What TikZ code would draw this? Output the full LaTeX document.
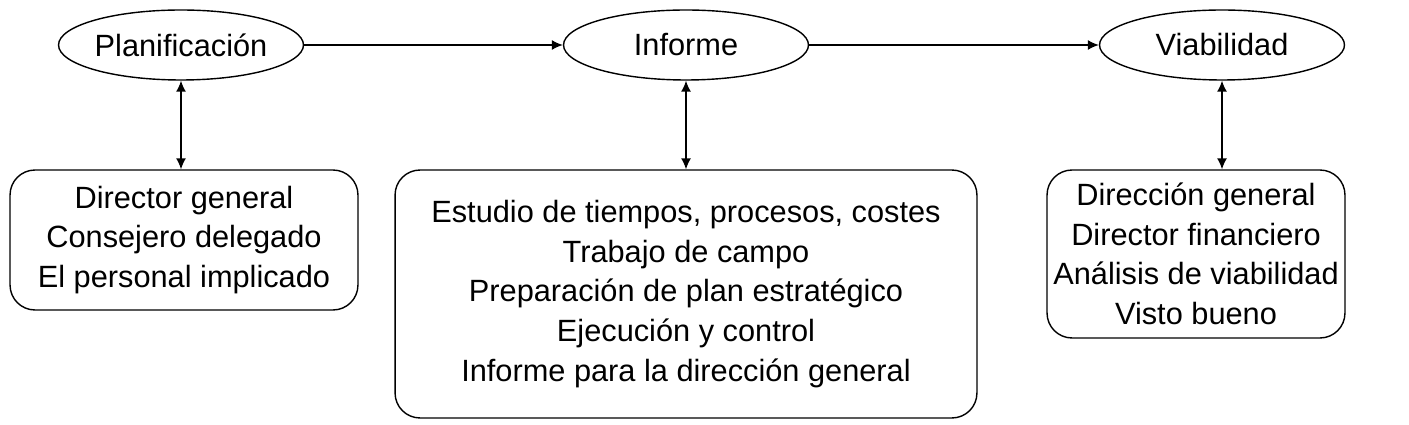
\documentclass[tikz,border=0pt]{standalone}
\usepackage{fontspec}
\setmainfont{Liberation Sans}
\usetikzlibrary{shapes.geometric,arrows.meta}
\begin{document}
\begin{tikzpicture}[x=0.02cm,y=-0.02cm]
      \tikzset{fase/.style={draw, ellipse, thick, minimum width=4.9cm, minimum height=1.4cm, inner sep=0pt, font=\fontsize{17.5}{21}\selectfont},
               caja/.style={draw, thick, rounded corners=0.5cm, align=center, inner sep=2pt, font=\fontsize{17.5}{22.5}\selectfont},
               flecha/.style={thick, -{Latex[length=0.22cm,width=0.2cm]}},
               doble/.style={thick, {Latex[length=0.22cm,width=0.2cm]}-{Latex[length=0.22cm,width=0.2cm]}}}
      \useasboundingbox (0,0) rectangle (1409,425);
% Fases
      	\node[fase] (plan) at (181,45) {Planificación};
      	\node[fase] (inf) at (686,45) {Informe};
      	\node[fase] (viab) at (1222,45) {Viabilidad};
% Cajas
      	\node[caja, minimum width=6.96cm, minimum height=2.8cm] (cplan) at (184,240) {Director general\\Consejero delegado\\El personal implicado};
      	\node[caja, minimum width=11.64cm, minimum height=4.96cm] (cinf) at (686,294) {Estudio de tiempos, procesos, costes\\Trabajo de campo\\Preparación de plan estratégico\\Ejecución y control\\Informe para la dirección general};
      	\node[caja, minimum width=5.96cm, minimum height=3.36cm] (cviab) at (1196,254) {Dirección general\\Director financiero\\Análisis de viabilidad\\Visto bueno};
% Flechas
		\draw[flecha] (plan) -- (inf);
		\draw[flecha] (inf) -- (viab);
		\draw[doble] (plan.south) -- (cplan.north -| plan.south);
		\draw[doble] (inf.south) -- (cinf.north);
		\draw[doble] (viab.south) -- (cviab.north -| viab.south);
\end{tikzpicture}
\end{document}
